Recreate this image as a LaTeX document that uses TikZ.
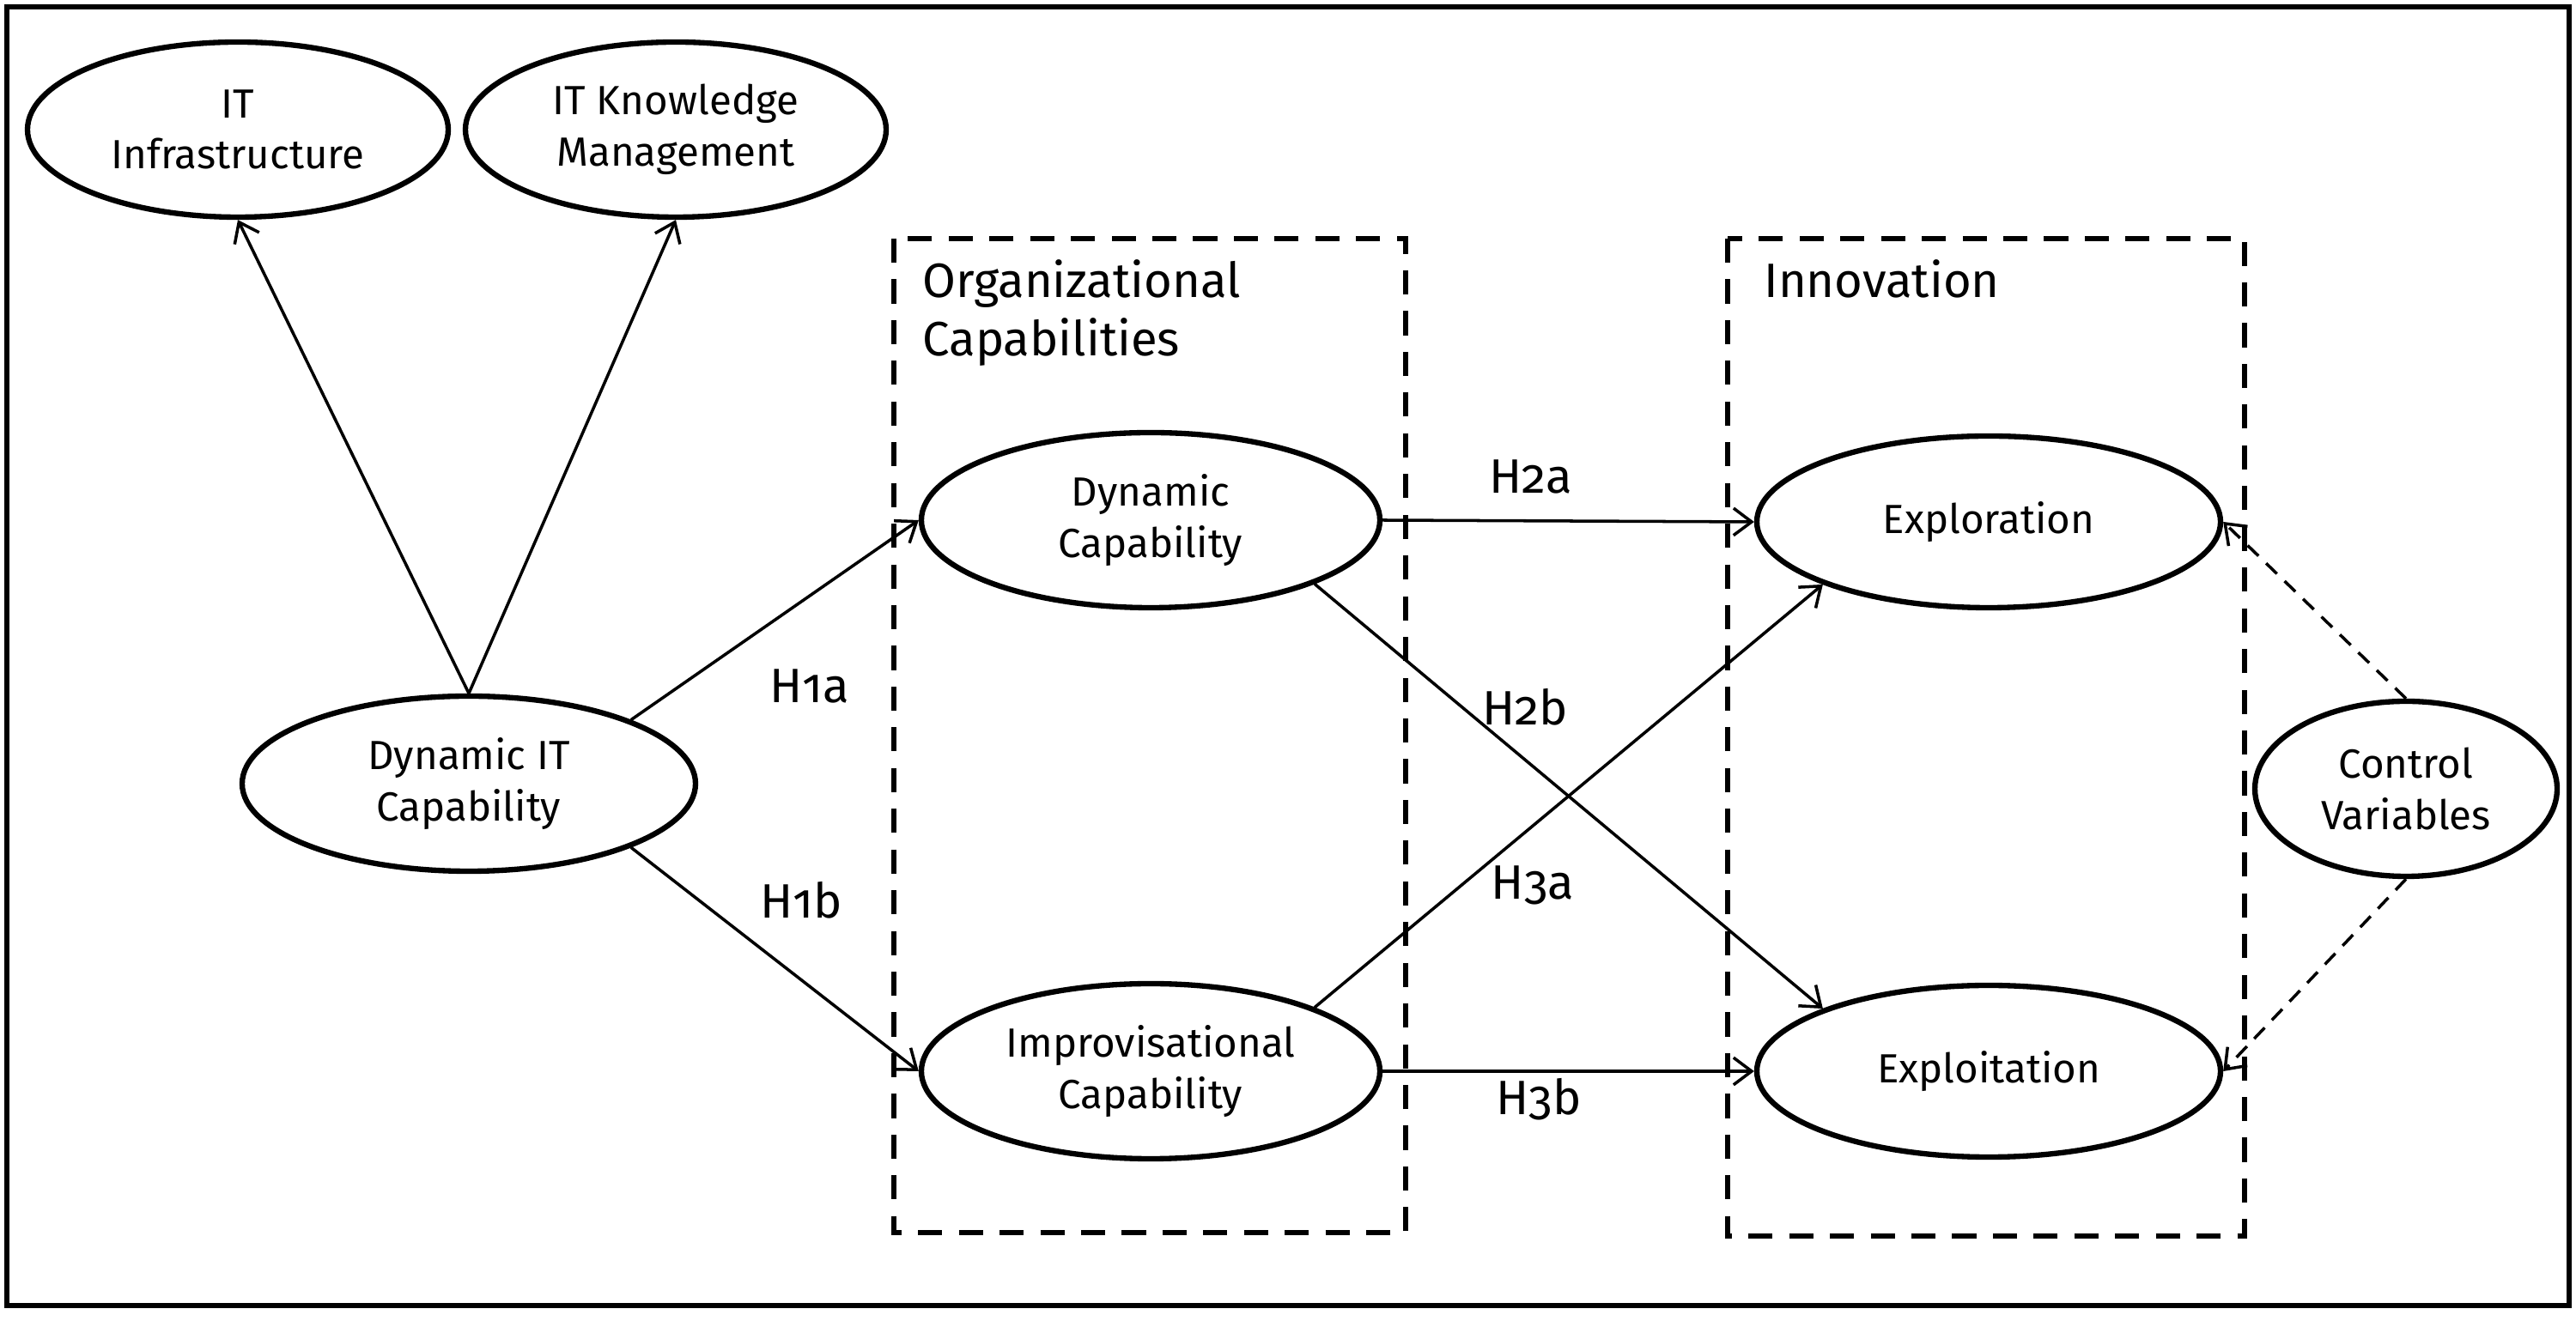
\documentclass[tikz,border=0pt]{standalone}
\usepackage{fontspec}
\setmainfont{Fira Sans}[Numbers=OldStyle]
\usetikzlibrary{shapes.geometric,arrows.meta}

\begin{document}
\begin{tikzpicture}[
    construct/.style={ellipse, draw, line width=1.8pt, align=center, inner sep=0pt,
        minimum height=2.04cm, font=\fontsize{13.5}{17}\selectfont},
    groupbox/.style={draw, line width=1.5pt, dash pattern=on 8pt off 5.5pt},
    grouptitle/.style={anchor=base west, align=left, font=\fontsize{16}{19.5}\selectfont},
    hyp/.style={anchor=base, font=\fontsize{16}{19.5}\selectfont},
    hypline/.style={line width=1pt, -{Straight Barb[length=6pt,width=9pt]}},
    ctrlline/.style={hypline, dash pattern=on 5pt off 3.5pt}
]
                \useasboundingbox (0,0) rectangle (30,15.39);
                \draw[line width=1.8pt] (0.08,0.18) rectangle (29.92,15.31);

                % dashed groups
                \draw[groupbox] (10.41,12.61) rectangle (16.37,1.03);
                \draw[groupbox] (20.12,12.61) rectangle (26.14,0.99);
                \node[grouptitle] (orgtitle) at (10.62,11.92) {Organizational};
                \node[grouptitle] (orgtitle2) at (10.62,11.24) {Capabilities};
                \node[grouptitle] (innotitle) at (20.42,11.92) {Innovation};

                % constructs
                \node[construct, minimum width=4.9cm] (itinfra) at (2.77,13.88) {IT\\Infrastructure};
                \node[construct, minimum width=4.9cm] (itkm) at (7.87,13.88) {IT Knowledge\\Management};
                \node[construct, minimum width=5.28cm] (dynit) at (5.46,6.26) {Dynamic IT\\Capability};
                \node[construct, minimum width=5.34cm] (dyncap) at (13.40,9.33) {Dynamic\\Capability};
                \node[construct, minimum width=5.34cm] (improv) at (13.40,2.91) {Improvisational\\Capability};
                \node[construct, minimum width=5.4cm, minimum height=2.0cm] (explor) at (23.16,9.31) {Exploration};
                \node[construct, minimum width=5.4cm, minimum height=2.0cm] (exploit) at (23.16,2.91) {Exploitation};
                \node[construct, minimum width=3.52cm] (control) at (28.02,6.20) {Control\\Variables};

                % paths
                \draw[hypline] (dynit.north) -- (itinfra.south);
                \draw[hypline] (dynit.north) -- (itkm.south);
                \draw[hypline] (dynit.north east) -- (dyncap.west);
                \draw[hypline] (dynit.south east) -- (improv.west);
                \draw[hypline] (dyncap.east) -- (explor.west);
                \draw[hypline] (dyncap.south east) -- (exploit.north west);
                \draw[hypline] (improv.north east) -- (explor.south west);
                \draw[hypline] (improv.east) -- (exploit.west);
                \draw[ctrlline] (control.north) -- (explor.east);
                \draw[ctrlline] (control.south) -- (exploit.east);

                % hypotheses
                \node[hyp] (h1a) at (9.43,7.20) {H1a};
                \node[hyp] (h1b) at (9.33,4.69) {H1b};
                \node[hyp] (h2a) at (17.83,9.64) {H2a};
                \node[hyp] (h2b) at (17.76,6.94) {H2b};
                \node[hyp] (h3a) at (17.85,4.91) {H3a};
                \node[hyp] (h3b) at (17.92,2.40) {H3b};
\end{tikzpicture}
\end{document}
